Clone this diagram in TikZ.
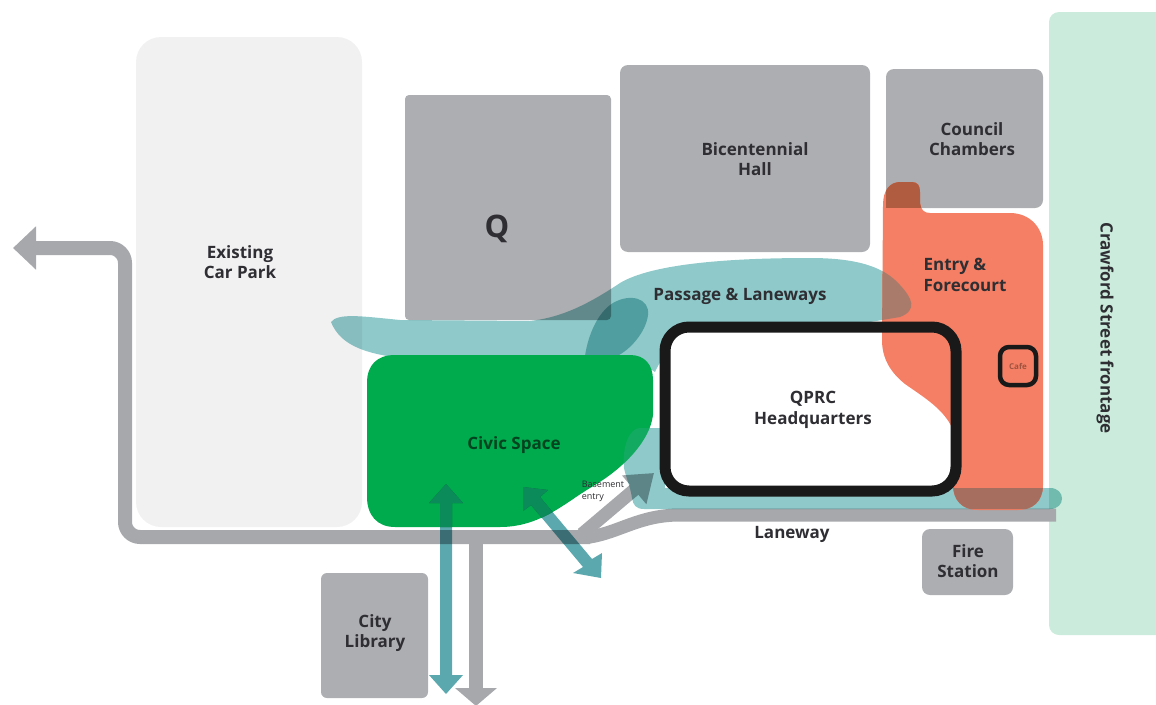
\documentclass[tikz,border=0pt]{standalone}
\usepackage{fontspec}
\setmainfont{Open Sans}
\usepackage{xcolor}
\usetikzlibrary{arrows.meta}

\definecolor{buildgray}{HTML}{ADAEB1}
\definecolor{carpark}{HTML}{F1F1F2}
\definecolor{frontage}{HTML}{CBECDC}
\definecolor{roadgray}{HTML}{A6A8AB}
\definecolor{civic}{HTML}{00AB4E}
\definecolor{forecourt}{HTML}{F47F64}
\definecolor{lanewash}{HTML}{8FC9CA}
\definecolor{flowteal}{HTML}{5BA8AE}
\definecolor{inkgray}{HTML}{2E2E33}
\definecolor{overcouncil}{HTML}{B05C40}
\definecolor{overpassage}{HTML}{A97B6B}
\definecolor{overlane}{HTML}{A56E5E}
\definecolor{overcivic}{HTML}{0B8A5A}

% shapes that are used more than once (fill and clip)
\def\passagepath{(331,322) .. controls (338,313) and (360,316) .. (400,320) -- (530,321) .. controls (555,318) and (580,310) .. (620,283) .. controls (650,265) and (720,258) .. (810,258) .. controls (860,258) and (885,268) .. (900,285) .. controls (912,298) and (918,310) .. (900,317) -- (870,322) -- (700,330) .. controls (680,340) and (665,350) .. (655,372) -- (630,356) -- (387,356) .. controls (365,352) and (340,345) .. (331,322) -- cycle}
\def\lanepath{(640,428) -- (665,428) -- (665,488) -- (1050,488) .. controls (1066,488) and (1066,509) .. (1050,509) -- (644,509) .. controls (636,509) and (633,505) .. (632,498) .. controls (630,485) and (626,478) .. (624,468) .. controls (622,445) and (630,428) .. (640,428) -- cycle}
\def\entrypath{(883,205) .. controls (883,190) and (890,182) .. (900,182) -- (912,182) .. controls (918,182) and (920,186) .. (920,192) -- (920,203) .. controls (921,210) and (924,213) .. (930,213) -- (1010,213) .. controls (1030,213) and (1043,228) .. (1043,245) -- (1043,485) .. controls (1043,502) and (1032,510) .. (1018,510) -- (978,510) .. controls (962,510) and (953,500) .. (953,485) -- (953,430) .. controls (945,410) and (925,398) .. (905,384) .. controls (890,372) and (882,358) .. (882,340) -- cycle}
\def\civicpath{(395,355) -- (630,355) .. controls (645,355) and (653,365) .. (653,380) -- (653,415) .. controls (650,440) and (625,468) .. (590,488) .. controls (565,503) and (540,527) .. (500,527) -- (395,527) .. controls (377,527) and (367,515) .. (367,497) -- (367,383) .. controls (367,365) and (377,355) .. (395,355) -- cycle}
\def\libraryflow{(446,484) -- (463,503) -- (452,503) -- (452,675) -- (463,675) -- (446,694) -- (429,675) -- (440,675) -- (440,503) -- (429,503) -- cycle}
\def\streetflow{(523,487) -- (548,490) -- (540,497) -- (592,559) -- (602,553) -- (601,578) -- (573,573) -- (583,567) -- (531,505) -- (523,511) -- cycle}

\tikzset{
    building/.style={fill=buildgray, rounded corners=#1},
    roadline/.style={line width=14pt, color=roadgray},
    flowarrow/.style={fill=flowteal, blend mode=multiply},
    maplabel/.style={font=\bfseries\fontsize{17}{20.5}\selectfont, text=inkgray, align=center, inner sep=0pt}
}

\begin{document}
\begin{tikzpicture}[x=1pt, y=-1pt]
    \clip (0,0) rectangle (1156,704);

    % Buildings
    \fill[carpark, rounded corners=25] (136,37) rectangle (362,527);
    \fill[building=4] (405,95) rectangle (611,320);
    \fill[building=8] (620,65) rectangle (870,252);
    \fill[building=8] (886,69) rectangle (1043,208);
    \fill[building=8] (922,529) rectangle (1013,595);
    \fill[building=6] (321,573) rectangle (428,698);
    \fill[frontage, rounded corners=10] (1049,12) rectangle (1190,635);

    % Roads
    \coordinate (westend) at (13,248);
    \coordinate (southend) at (476,706);
    \coordinate (ramptip) at (654,473);
    \draw[roadline, rounded corners=15, {Triangle[length=23pt,width=42pt]}-] (westend) -- (125,248) -- (125,537) -- (590,537);
    \draw[roadline, -{Triangle[length=18pt,width=41pt]}] (476,537) -- (southend);
    \draw[roadline, line width=13pt] (560,537) -- (590,537) .. controls (620,532) and (640,515) .. (680,515) -- (1056,515);
    \draw[roadline, line width=13pt, -{Triangle[length=26pt,width=36pt]}] (582,534) -- (ramptip);

    % Passage
    \fill[lanewash, blend mode=multiply] \passagepath;
    \fill[lanewash, blend mode=multiply] (585,356) .. controls (588,335) and (598,312) .. (613,303) .. controls (630,293) and (650,298) .. (648,315) .. controls (646,332) and (630,350) .. (617,356) -- cycle;

    % Laneway wash
    \fill[lanewash, blend mode=multiply] \lanepath;

    % Civic space
    \fill[civic] \civicpath;
    \begin{scope}
        \clip \civicpath;
        \fill[flowteal, opacity=.2] \lanepath;
    \end{scope}

    % Headquarters floor
    \fill[white, rounded corners=22] (665,327) rectangle (956,491);

    % Entry and overlaps
    \fill[forecourt] \entrypath;
    \begin{scope}
        \clip \entrypath;
        \fill[overcouncil] (886,69) rectangle (1043,208);
        \fill[overpassage] \passagepath;
        \fill[overlane] \lanepath;
    \end{scope}

    % Headquarters and cafe outlines
    \draw[line width=11pt, color=black!90, rounded corners=24] (665,327) rectangle (956,491);
    \draw[line width=4.5pt, color=black!90, rounded corners=9] (1000,347) rectangle (1036,385);

    % Flows
    \fill[flowarrow] \libraryflow;
    \fill[flowarrow] \streetflow;
    \begin{scope}
        \clip \civicpath;
        \fill[overcivic] \libraryflow;
        \fill[overcivic] \streetflow;
    \end{scope}

    % Labels
    \node[maplabel] (carparklabel) at (240,262) {Existing\\Car Park};
    \node[maplabel, font=\bfseries\fontsize{31}{31}\selectfont] (qlabel) at (497,229) {Q};
    \node[maplabel] (halllabel) at (755,159) {Bicentennial\\Hall};
    \node[maplabel] (chamberlabel) at (972,139) {Council\\Chambers};
    \node[maplabel] (passagelabel) at (740,296) {Passage \& Laneways};
    \node[maplabel, align=left] (entrylabel) at (965,275) {Entry \&\\Forecourt};
    \node[maplabel] (hqlabel) at (813,410) {QPRC\\Headquarters};
    \node[maplabel, text=black!60!civic] (civiclabel) at (514,445) {Civic Space};
    \node[maplabel] (lanelabel) at (792,534) {Laneway};
    \node[maplabel] (firelabel) at (968,561) {Fire\\Station};
    \node[maplabel] (librarylabel) at (375,633) {City\\Library};
    \node[maplabel, rotate=-90] (frontlabel) at (1105,328) {Crawford Street frontage};
    \node[font=\fontsize{9}{12}\selectfont, text=inkgray, align=left, inner sep=0pt] (basementlabel) at (603,491) {Basement\\entry};
    \node[font=\bfseries\fontsize{8}{9}\selectfont, text=black!35!forecourt, inner sep=0pt] (cafelabel) at (1018,366) {Cafe};
\end{tikzpicture}
\end{document}
